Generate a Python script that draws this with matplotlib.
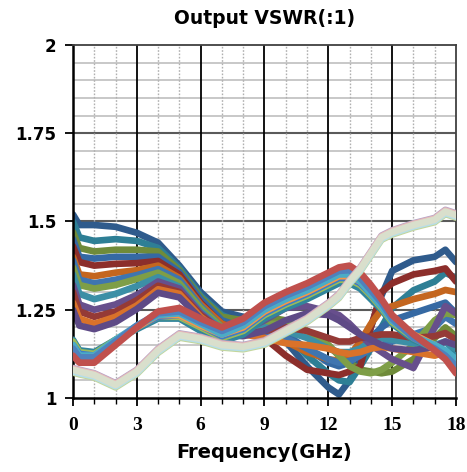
import matplotlib.pyplot as plt
from matplotlib.ticker import MultipleLocator

# Frequency points (GHz) shared by every trace
freq = [0, 0.3, 1, 2, 3, 4, 5, 6, 7, 8, 9, 10, 11, 12, 12.5, 13, 13.5, 14, 14.5, 15, 16, 17, 17.5, 18]

# Upper family: high at low band, dips around 12-15 GHz
upper_colors = ['#2F5B8C', '#2E7F95', '#6F8B3A', '#3569A3', '#8C2E2B', '#C4661F', '#3F75B0',
                '#7E9E47', '#3C8FA6', '#674F8C', '#953A36', '#D9722A', '#5E4A86']
upper_vswr = [
    [1.52, 1.49, 1.49, 1.485, 1.468, 1.44, 1.375, 1.30, 1.245, 1.23, 1.21, 1.16, 1.09, 1.03, 1.01, 1.05, 1.11, 1.20, 1.29, 1.36, 1.39, 1.40, 1.42, 1.385],
    [1.50, 1.455, 1.445, 1.45, 1.445, 1.425, 1.368, 1.29, 1.235, 1.21, 1.22, 1.18, 1.12, 1.07, 1.05, 1.045, 1.09, 1.14, 1.20, 1.255, 1.305, 1.33, 1.355, 1.34],
    [1.47, 1.425, 1.415, 1.42, 1.42, 1.415, 1.362, 1.285, 1.23, 1.22, 1.23, 1.22, 1.19, 1.15, 1.12, 1.10, 1.08, 1.075, 1.07, 1.075, 1.11, 1.17, 1.20, 1.175],
    [1.45, 1.40, 1.395, 1.40, 1.40, 1.40, 1.357, 1.28, 1.22, 1.20, 1.21, 1.18, 1.14, 1.10, 1.09, 1.10, 1.13, 1.17, 1.20, 1.22, 1.24, 1.26, 1.27, 1.24],
    [1.43, 1.385, 1.375, 1.38, 1.382, 1.388, 1.35, 1.27, 1.21, 1.19, 1.17, 1.12, 1.08, 1.07, 1.065, 1.075, 1.09, 1.20, 1.30, 1.325, 1.35, 1.36, 1.367, 1.33],
    [1.40, 1.35, 1.345, 1.355, 1.362, 1.375, 1.34, 1.265, 1.21, 1.19, 1.18, 1.16, 1.13, 1.11, 1.105, 1.12, 1.16, 1.21, 1.25, 1.26, 1.28, 1.295, 1.306, 1.30],
    [1.39, 1.335, 1.325, 1.335, 1.348, 1.365, 1.335, 1.26, 1.20, 1.185, 1.19, 1.17, 1.14, 1.11, 1.10, 1.105, 1.12, 1.14, 1.15, 1.16, 1.18, 1.20, 1.23, 1.21],
    [1.37, 1.32, 1.31, 1.32, 1.337, 1.355, 1.325, 1.255, 1.20, 1.19, 1.21, 1.21, 1.19, 1.15, 1.12, 1.09, 1.075, 1.07, 1.08, 1.10, 1.15, 1.22, 1.24, 1.235],
    [1.35, 1.295, 1.28, 1.295, 1.317, 1.342, 1.315, 1.245, 1.195, 1.185, 1.20, 1.19, 1.17, 1.14, 1.13, 1.13, 1.14, 1.16, 1.17, 1.165, 1.155, 1.15, 1.16, 1.13],
    [1.32, 1.265, 1.25, 1.265, 1.292, 1.33, 1.31, 1.24, 1.19, 1.19, 1.22, 1.255, 1.26, 1.245, 1.235, 1.21, 1.18, 1.15, 1.13, 1.11, 1.085, 1.20, 1.26, 1.24],
    [1.30, 1.245, 1.23, 1.245, 1.277, 1.318, 1.30, 1.235, 1.19, 1.18, 1.19, 1.20, 1.19, 1.17, 1.16, 1.16, 1.17, 1.175, 1.18, 1.18, 1.17, 1.175, 1.184, 1.165],
    [1.27, 1.225, 1.21, 1.23, 1.262, 1.308, 1.295, 1.23, 1.185, 1.18, 1.17, 1.155, 1.15, 1.14, 1.13, 1.125, 1.13, 1.14, 1.145, 1.14, 1.13, 1.12, 1.13, 1.10],
    [1.25, 1.205, 1.195, 1.215, 1.252, 1.298, 1.285, 1.225, 1.18, 1.175, 1.19, 1.22, 1.24, 1.235, 1.22, 1.20, 1.18, 1.165, 1.15, 1.14, 1.135, 1.145, 1.16, 1.15],
]

# Middle family: peaks near 4.5 GHz and 12.5 GHz, falls toward 18 GHz
mid_colors = ['#31859C', '#9BBB59', '#3D7CC9', '#F79646', '#4BACC6', '#4F81BD', '#C0504D']
mid_vswr = [
    [1.165, 1.135, 1.13, 1.165, 1.195, 1.225, 1.225, 1.19, 1.16, 1.18, 1.225, 1.255, 1.28, 1.31, 1.325, 1.325, 1.31, 1.28, 1.25, 1.21, 1.165, 1.14, 1.13, 1.12],
    [1.16, 1.13, 1.125, 1.165, 1.20, 1.23, 1.23, 1.20, 1.17, 1.19, 1.235, 1.265, 1.29, 1.32, 1.335, 1.335, 1.32, 1.29, 1.255, 1.215, 1.17, 1.14, 1.125, 1.10],
    [1.15, 1.125, 1.12, 1.16, 1.20, 1.23, 1.235, 1.205, 1.175, 1.195, 1.24, 1.27, 1.295, 1.325, 1.34, 1.34, 1.325, 1.295, 1.26, 1.22, 1.175, 1.145, 1.13, 1.10],
    [1.13, 1.11, 1.11, 1.155, 1.20, 1.235, 1.235, 1.205, 1.18, 1.20, 1.245, 1.275, 1.30, 1.33, 1.345, 1.345, 1.33, 1.30, 1.265, 1.225, 1.18, 1.15, 1.13, 1.09],
    [1.15, 1.12, 1.12, 1.165, 1.205, 1.235, 1.24, 1.21, 1.18, 1.205, 1.25, 1.28, 1.305, 1.335, 1.35, 1.35, 1.33, 1.295, 1.26, 1.22, 1.175, 1.15, 1.135, 1.11],
    [1.14, 1.115, 1.115, 1.16, 1.205, 1.24, 1.245, 1.215, 1.19, 1.215, 1.26, 1.29, 1.315, 1.345, 1.36, 1.362, 1.34, 1.305, 1.27, 1.225, 1.17, 1.14, 1.12, 1.09],
    [1.12, 1.10, 1.10, 1.15, 1.20, 1.245, 1.255, 1.225, 1.20, 1.225, 1.27, 1.30, 1.325, 1.355, 1.37, 1.375, 1.355, 1.32, 1.28, 1.235, 1.18, 1.135, 1.11, 1.07],
]

# Lower family: low at start, climbs to ~1.52 at the top of band
low_colors = ['#C3D69B', '#B7DEE8', '#B3A2C7', '#E6B9B8', '#D9DFCC']
low_vswr = [
    [1.072, 1.067, 1.058, 1.030, 1.068, 1.128, 1.171, 1.161, 1.143, 1.138, 1.151, 1.183, 1.215, 1.258, 1.283, 1.323, 1.358, 1.403, 1.448, 1.463, 1.483, 1.498, 1.521, 1.511],
    [1.075, 1.070, 1.061, 1.033, 1.071, 1.131, 1.174, 1.164, 1.146, 1.141, 1.154, 1.186, 1.218, 1.261, 1.286, 1.326, 1.361, 1.406, 1.451, 1.466, 1.486, 1.501, 1.524, 1.514],
    [1.085, 1.080, 1.070, 1.042, 1.080, 1.140, 1.183, 1.173, 1.155, 1.150, 1.163, 1.195, 1.227, 1.270, 1.295, 1.335, 1.370, 1.415, 1.460, 1.475, 1.495, 1.510, 1.533, 1.523],
    [1.083, 1.078, 1.068, 1.040, 1.078, 1.138, 1.181, 1.171, 1.153, 1.148, 1.161, 1.193, 1.225, 1.268, 1.293, 1.333, 1.368, 1.413, 1.458, 1.473, 1.493, 1.508, 1.531, 1.521],
    [1.080, 1.075, 1.065, 1.037, 1.075, 1.135, 1.178, 1.168, 1.150, 1.145, 1.158, 1.190, 1.222, 1.265, 1.290, 1.330, 1.365, 1.410, 1.455, 1.470, 1.490, 1.505, 1.528, 1.518],
]

fig = plt.figure(figsize=(4.67, 4.72), dpi=100)
ax = fig.add_axes([0.1563, 0.1568, 0.8201, 0.7479])

# grid first
for i in range(1, 20):
    v = 1 + 0.05 * i
    major = i % 5 == 0
    ax.axhline(v, color='#5A5A5A' if major else '#C4C4C4', lw=1.5 if major else 1.3, zorder=0)
for f in range(1, 18):
    if f % 3 == 0:
        ax.axvline(f, color='black', lw=1.3, zorder=0)
    else:
        ax.axvline(f, color='#B0B0B0', lw=1.0, ls=(0, (1.2, 1.2)), zorder=0)

lw = 4.8
for c, vals in zip(upper_colors, upper_vswr):
    ax.plot(freq, vals, color=c, lw=lw, solid_joinstyle='round', solid_capstyle='round', zorder=2)
for c, vals in zip(mid_colors, mid_vswr):
    ax.plot(freq, vals, color=c, lw=lw, solid_joinstyle='round', solid_capstyle='round', zorder=3)
for c, vals in zip(low_colors, low_vswr):
    ax.plot(freq, vals, color=c, lw=lw, solid_joinstyle='round', solid_capstyle='round', zorder=4)

ax.set_xlim(0, 18)
ax.set_ylim(1, 2)
ax.xaxis.set_major_locator(MultipleLocator(3))
ax.xaxis.set_minor_locator(MultipleLocator(1))
ax.set_yticks([1, 1.25, 1.5, 1.75, 2])
ax.set_yticklabels(['1', '1.25', '1.5', '1.75', '2'])

for lab in ax.get_xticklabels():
    lab.set_fontfamily('Liberation Serif')
    lab.set_fontweight('bold')
    lab.set_fontsize(14)
for lab in ax.get_yticklabels():
    lab.set_fontweight('bold')
    lab.set_fontsize(12)

ax.tick_params(axis='both', which='major', direction='out', length=6, width=1.3, color='black')
ax.tick_params(axis='x', which='minor', direction='out', length=4, width=1.0, color='black')
ax.tick_params(axis='x', pad=8)
ax.tick_params(axis='y', pad=6)

for side in ['left', 'bottom']:
    ax.spines[side].set_linewidth(1.8)
    ax.spines[side].set_color('black')
for side in ['top', 'right']:
    ax.spines[side].set_linewidth(1.3)
    ax.spines[side].set_color('#404040')

ax.set_title('Output VSWR(:1)', fontsize=13.5, fontweight='bold', pad=15)
ax.set_xlabel('Frequency(GHz)', fontsize=14, fontweight='bold', labelpad=6)

fig.savefig('out.png', dpi=100)
